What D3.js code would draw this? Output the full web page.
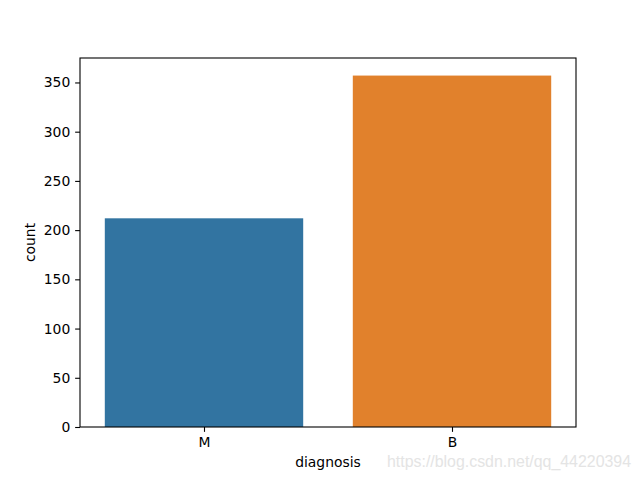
<!DOCTYPE html>
<html><head><meta charset="utf-8">
<script src="https://cdn.jsdelivr.net/npm/d3@7"></script>
<style>body{margin:0;background:#fff;} text{font-family:"DejaVu Sans",sans-serif;}</style>
</head><body>
<svg id="c" width="640" height="480"></svg>
<script>
const categories = ["M", "B"];
const counts = [212, 357];
const colors = ["#3274a1", "#e1812c"];
const yTicks = [0, 50, 100, 150, 200, 250, 300, 350];

const svg = d3.select("#c");
const L = 80, R = 576, T = 58, B = 427;
const fs = 13.9;
const x = d3.scaleLinear().domain([-0.5, 1.5]).range([L, R]);
const y = d3.scaleLinear().domain([0, d3.max(counts) * 1.05]).range([B, T]);

svg.append("rect").attr("width", 640).attr("height", 480).attr("fill", "#fff");

svg.selectAll("rect.bar").data(categories).enter().append("rect")
  .attr("class", "bar")
  .attr("x", (d, i) => x(i - 0.4))
  .attr("width", (d, i) => x(i + 0.4) - x(i - 0.4))
  .attr("y", (d, i) => y(counts[i]))
  .attr("height", (d, i) => y(0) - y(counts[i]))
  .attr("fill", (d, i) => colors[i]);

const yAxis = d3.axisLeft(y).tickValues(yTicks).tickSize(4.86).tickPadding(4.86);
const gy = svg.append("g").attr("transform", `translate(${L},0)`).call(yAxis);
const xAxis = d3.axisBottom(x).tickValues([0, 1]).tickFormat(i => categories[i]).tickSize(4.86).tickPadding(4.86);
const gx = svg.append("g").attr("transform", `translate(0,${B})`).call(xAxis);
[gx, gy].forEach(g => {
  g.select(".domain").remove();
  g.selectAll("text").attr("font-size", fs).attr("fill", "#000").style("font-family", "DejaVu Sans");
  g.selectAll("line").attr("stroke", "#000").attr("stroke-width", 1.1);
});

svg.append("rect").attr("x", L).attr("y", T).attr("width", R - L).attr("height", B - T)
  .attr("fill", "none").attr("stroke", "#000").attr("stroke-width", 1.1);

svg.append("text").attr("x", (L + R) / 2).attr("y", 467).attr("text-anchor", "middle")
  .attr("font-size", fs).text("diagnosis");
svg.append("text").attr("transform", `translate(35,${(T + B) / 2}) rotate(-90)`)
  .attr("text-anchor", "middle").attr("font-size", fs).text("count");

svg.append("text").attr("x", 387).attr("y", 467)
  .attr("font-size", 16).attr("fill", "#e4e4e4").attr("textLength", 244).attr("lengthAdjust", "spacingAndGlyphs")
  .style("font-family", "Arial, 'Liberation Sans', sans-serif")
  .text("https://blog.csdn.net/qq_44220394");
</script>
</body></html>
